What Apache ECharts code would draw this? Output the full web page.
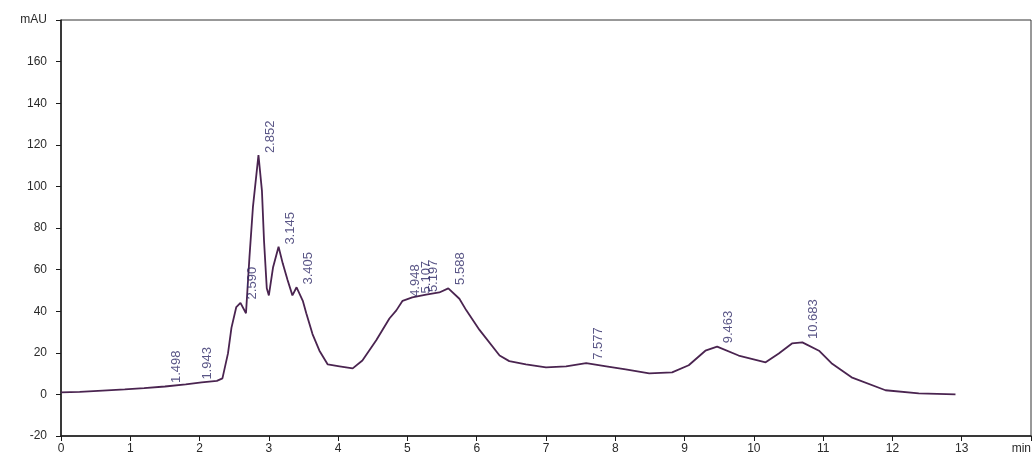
<!DOCTYPE html>
<html>
<head>
<meta charset="utf-8">
<script src="https://cdn.jsdelivr.net/npm/echarts@6/dist/echarts.min.js"></script>
<style>
  html, body { margin: 0; padding: 0; background: #ffffff; }
  #chart { width: 1034px; height: 457px; }
</style>
</head>
<body>
<div id="chart"></div>
<script>
// Chromatogram trace: retention time (min) and detector response (mAU)
const retentionTimes = [
  0, 0.27, 0.6, 0.92, 1.2, 1.5, 1.8, 2.03, 2.25, 2.33, 2.41, 2.46, 2.53, 2.59,
  2.67, 2.72, 2.77, 2.85, 2.9, 2.93, 2.97, 3.0, 3.06, 3.14, 3.2, 3.27, 3.34,
  3.4, 3.49, 3.54, 3.63, 3.73, 3.85, 4.02, 4.21, 4.35, 4.55, 4.74, 4.84, 4.93,
  5.07, 5.27, 5.46, 5.59, 5.75, 5.85, 6.04, 6.33, 6.47, 6.71, 7.0, 7.29, 7.58,
  7.87, 8.15, 8.49, 8.82, 9.06, 9.3, 9.47, 9.78, 10.17, 10.36, 10.55, 10.7,
  10.94, 11.12, 11.41, 11.9, 12.38, 12.91
];
const absorbance = [
  1, 1.2, 1.8, 2.4, 3.0, 3.8, 4.8, 5.8, 6.5, 7.7, 19.7, 32, 42, 44,
  39, 66, 90, 115, 98, 74, 51, 47.6, 61, 71, 63, 55, 47.6,
  51.5, 45, 39, 29, 21, 14.4, 13.5, 12.5, 16.3, 26, 36.5, 40.4, 45,
  46.6, 48, 49, 51, 46, 40.4, 31, 18.7, 16, 14.4, 13, 13.5, 15,
  13.5, 12, 10.1, 10.6, 14, 21, 23, 18.7, 15.4, 19.7, 24.5, 25,
  21, 15, 8.2, 2, 0.5, 0
];

// Integrated peaks (retention time labels)
const peakTimes = [1.498, 1.943, 2.590, 2.852, 3.145, 3.405, 4.948, 5.107, 5.197, 5.588, 7.577, 9.463, 10.683];

// Axis units shown at the far end of each axis
const xUnit = 'min';
const yUnit = 'mAU';
const xRange = [0, 14, 1];
const yRange = [-20, 180, 20];

const trace = retentionTimes.map((t, i) => [t, absorbance[i]]);

// Height of the trace at a given time (linear between recorded points)
function heightAt(t) {
  for (let i = 1; i < retentionTimes.length; i++) {
    if (t <= retentionTimes[i]) {
      const t0 = retentionTimes[i - 1], t1 = retentionTimes[i];
      const f = (t - t0) / (t1 - t0);
      return absorbance[i - 1] + f * (absorbance[i] - absorbance[i - 1]);
    }
  }
  return absorbance[absorbance.length - 1];
}

const peaks = peakTimes.map(t => [t, heightAt(t), t.toFixed(3)]);

const axisText = { color: '#2a2a2a', fontFamily: 'Arial, "Liberation Sans", sans-serif', fontSize: 12 };

const chart = echarts.init(document.getElementById('chart'), null, { renderer: 'canvas' });
chart.setOption({
  animation: false,
  backgroundColor: '#ffffff',
  grid: {
    left: 61, right: 3, top: 20, bottom: 21,
    show: true, borderColor: '#333333', borderWidth: 1, backgroundColor: 'transparent'
  },
  xAxis: {
    type: 'value',
    min: xRange[0], max: xRange[1], interval: xRange[2],
    axisLine: { onZero: false, lineStyle: { color: '#1a1a1a', width: 1.5 } },
    axisTick: { show: true, length: 5, lineStyle: { color: '#1a1a1a' } },
    splitLine: { show: false },
    axisLabel: Object.assign({}, axisText, {
      margin: 7,
      showMinLabel: true, showMaxLabel: true,
      alignMaxLabel: 'right',
      formatter: v => (v === xRange[1] ? xUnit : String(v))
    })
  },
  yAxis: {
    type: 'value',
    min: yRange[0], max: yRange[1], interval: yRange[2],
    axisLine: { show: true, lineStyle: { color: '#1a1a1a', width: 1.5 } },
    axisTick: { show: true, length: 5, lineStyle: { color: '#1a1a1a' } },
    splitLine: { show: false },
    axisLabel: Object.assign({}, axisText, {
      margin: 14,
      showMinLabel: true, showMaxLabel: true,
      formatter: v => (v === yRange[1] ? yUnit : String(v))
    })
  },
  series: [
    {
      type: 'line',
      data: trace,
      showSymbol: false,
      smooth: false,
      lineStyle: { color: '#4a2450', width: 1.8 },
      z: 3
    },
    {
      type: 'scatter',
      data: peaks,
      symbol: 'rect',
      symbolSize: 1,
      itemStyle: { color: 'rgba(0,0,0,0)' },
      z: 4,
      labelLayout: { hideOverlap: false },
      label: {
        show: true,
        position: [6, -3],
        rotate: 90,
        align: 'left',
        verticalAlign: 'top',
        color: '#2f2a68',
        fontFamily: 'Arial, "Liberation Sans", sans-serif',
        fontSize: 13,
        formatter: p => p.data[2]
      }
    }
  ]
});
</script>
</body>
</html>
